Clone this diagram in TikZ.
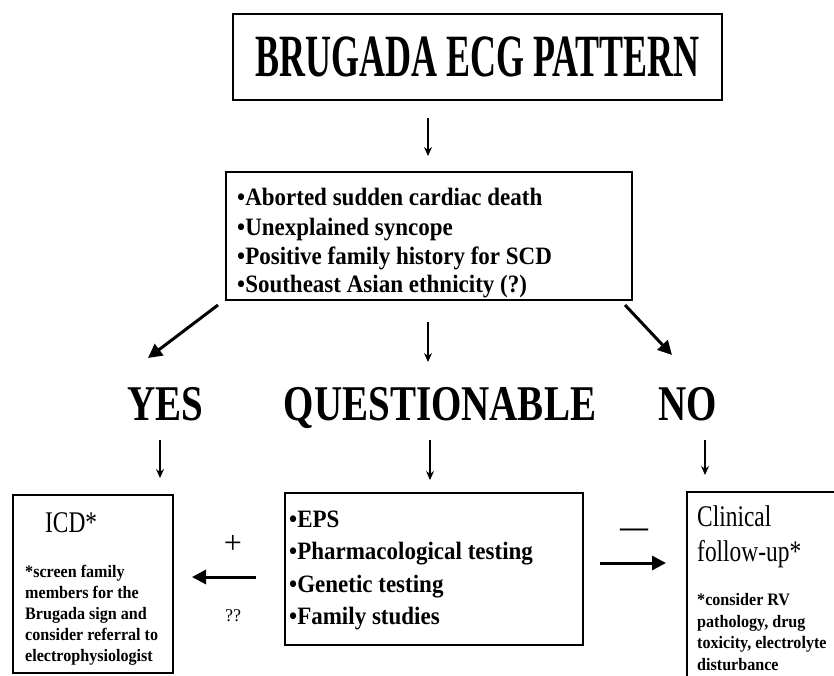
\documentclass[tikz,border=0pt]{standalone}
\usepackage{fontspec}
\setmainfont{Liberation Serif}
\newfontfamily\fTitle[FakeStretch=0.6]{Liberation Serif}
\newfontfamily\fHead[FakeStretch=0.78]{Liberation Serif}
\newfontfamily\fList[FakeStretch=0.92]{Liberation Serif}
\newfontfamily\fSmall[FakeStretch=0.92]{Liberation Serif}
\usetikzlibrary{arrows.meta}
\tikzset{
  box/.style={draw, line width=2.6pt, inner sep=0pt},
  thinarrow/.style={line width=1.3pt, -{Stealth[length=9pt,width=8pt]}},
  thickarrow/.style={line width=3pt, -{Triangle[length=14pt,width=14pt]}},
  listline/.style={anchor=base west, inner sep=0pt, font=\fList\bfseries\fontsize{25}{25}\selectfont},
  smallline/.style={anchor=base west, inner sep=0pt, font=\fSmall\bfseries\fontsize{17.5}{17.5}\selectfont},
  headline/.style={anchor=base, inner sep=0pt, font=\fHead\bfseries\fontsize{50}{50}\selectfont},
  midline/.style={anchor=base west, inner sep=0pt, font=\fHead\fontsize{30}{30}\selectfont},
}
\begin{document}
\begin{tikzpicture}[x=1pt,y=-1pt]
\useasboundingbox (0,0) rectangle (834,675);
\fill[white] (0,0) rectangle (834,675);

% title
\node[box, minimum width=489pt, minimum height=86pt,
      font=\fTitle\bfseries\fontsize{60}{60}\selectfont] (title) at (477.5,57) {BRUGADA ECG PATTERN};

% criteria box
\node[box, minimum width=406pt, minimum height=128pt] (crit) at (429,236) {};
\node[listline] (c1) at (237,205) {•Aborted sudden cardiac death};
\node[listline] (c2) at (237,235) {•Unexplained syncope};
\node[listline] (c3) at (237,264) {•Positive family history for SCD};
\node[listline] (c4) at (237,292) {•Southeast Asian ethnicity (?)};

\coordinate (a0s) at (428,118);
\coordinate (a0e) at (428,156);
\draw[thinarrow] (a0s) -- (a0e);

% branch headings
\node[headline] (yes) at (165,420) {YES};
\node[headline] (quest) at (440,420) {QUESTIONABLE};
\node[headline] (no) at (688,420) {NO};

\coordinate (dls) at (218,305);
\coordinate (dle) at (148,358);
\coordinate (dms) at (428,322);
\coordinate (dme) at (428,362);
\coordinate (drs) at (625,305);
\coordinate (dre) at (672,355);
\draw[thickarrow] (dls) -- (dle);
\draw[thinarrow] (dms) -- (dme);
\draw[thickarrow] (drs) -- (dre);

\coordinate (ys) at (160,440);
\coordinate (ye) at (160,478);
\coordinate (qs) at (430,440);
\coordinate (qe) at (430,480);
\coordinate (ns) at (705,440);
\coordinate (ne) at (705,475);
\draw[thinarrow] (ys) -- (ye);
\draw[thinarrow] (qs) -- (qe);
\draw[thinarrow] (ns) -- (ne);

% ICD box
\node[box, minimum width=160pt, minimum height=178pt] (icd) at (93,584) {};
\node[anchor=base west, inner sep=0pt, font=\fHead\fontsize{30}{30}\selectfont] (icdt) at (45,532) {ICD*};
\node[smallline] (i1) at (25,577) {*screen family};
\node[smallline] (i2) at (25,598) {members for the};
\node[smallline] (i3) at (25,619) {Brugada sign and};
\node[smallline] (i4) at (25,640) {consider referral to};
\node[smallline] (i5) at (25,661) {electrophysiologist};

% tests box
\node[box, minimum width=298pt, minimum height=152pt] (tests) at (434,569) {};
\node[listline] (t1) at (289,527) {•EPS};
\node[listline] (t2) at (289,559) {•Pharmacological testing};
\node[listline] (t3) at (289,592) {•Genetic testing};
\node[listline] (t4) at (289,624) {•Family studies};

% plus / arrow left
\node[inner sep=0pt, font=\fontsize{32}{32}\selectfont] (plus) at (233,544) {+};
\node[inner sep=0pt, font=\fontsize{18}{18}\selectfont] (qq) at (233,616) {??};
\coordinate (ls) at (256,577);
\coordinate (le) at (192,577);
\draw[thickarrow] (ls) -- (le);

% minus / arrow right
\node[inner sep=0pt, font=\bfseries\fontsize{28}{28}\selectfont] (minus) at (634,533) {—};
\coordinate (rs) at (600,563);
\coordinate (re) at (666,563);
\draw[thickarrow] (rs) -- (re);

% follow-up box
\node[box, minimum width=160pt, minimum height=200pt] (fu) at (767,592) {};
\node[midline] (f1) at (697,526) {Clinical};
\node[midline] (f2) at (697,561) {follow-up*};
\node[smallline] (g1) at (697,605) {*consider RV};
\node[smallline] (g2) at (697,627) {pathology, drug};
\node[smallline] (g3) at (697,648) {toxicity, electrolyte};
\node[smallline] (g4) at (697,670) {disturbance};
\end{tikzpicture}
\end{document}
